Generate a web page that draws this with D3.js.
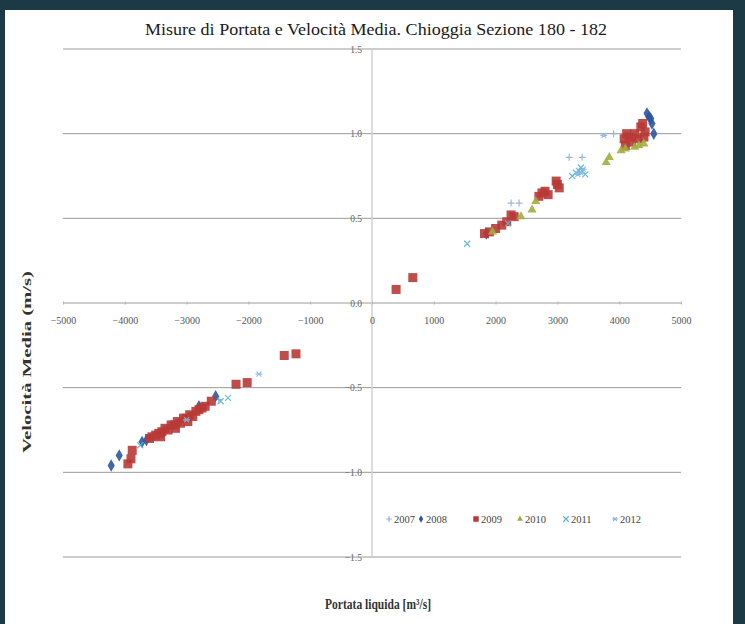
<!DOCTYPE html>
<html>
<head>
<meta charset="utf-8">
<script src="https://cdn.jsdelivr.net/npm/d3@7"></script>
<style>
  html, body { margin: 0; padding: 0; background: #1b3a46; }
  svg { display: block; }
</style>
</head>
<body>
<svg id="chart" width="745" height="624"></svg>
<script>
// Discharge [m3/s] vs mean velocity [m/s], one array per survey year
const years = ["2007", "2008", "2009", "2010", "2011", "2012"];

const data2007 = [[2250, 0.59], [2380, 0.59], [3190, 0.86], [3400, 0.86], [3910, 1.00], [-2480, -0.57], [1880, 0.40]];

const data2008 = [[-4220, -0.96], [-4090, -0.90], [-3720, -0.82], [-3650, -0.81], [-2800, -0.61], [-2530, -0.55],
  [4450, 1.12], [4510, 1.09], [4530, 1.06], [4480, 1.10], [4560, 1.00], [1850, 0.41]];

const data2009 = [[390, 0.08], [660, 0.15], [1820, 0.41], [1900, 0.42], [2000, 0.44], [2100, 0.46], [2180, 0.48],
  [2250, 0.52], [2300, 0.51], [2700, 0.63], [2750, 0.65], [2800, 0.66], [2850, 0.64], [2980, 0.72], [3030, 0.68],
  [3000, 0.70], [4080, 0.97], [4120, 1.00], [4160, 0.98], [4200, 0.95], [4250, 1.00], [4350, 1.04], [4380, 1.06],
  [4400, 0.98], [4420, 1.01], [4300, 0.97], [4100, 0.93],
  [-1420, -0.31], [-1230, -0.30], [-2200, -0.48], [-2020, -0.47], [-3900, -0.92], [-3880, -0.87], [-3950, -0.95],
  [-3560, -0.79], [-3500, -0.78], [-3450, -0.77], [-3400, -0.76], [-3350, -0.74], [-3300, -0.75], [-3250, -0.72],
  [-3200, -0.72], [-3150, -0.70], [-3100, -0.71], [-3050, -0.68], [-3000, -0.68], [-2950, -0.66], [-2900, -0.67],
  [-2850, -0.64], [-2800, -0.63], [-2750, -0.62], [-2700, -0.61], [-2600, -0.58], [-3600, -0.80], [-3420, -0.79],
  [-3180, -0.74], [-2980, -0.70]];

const data2010 = [[2410, 0.51], [2590, 0.55], [3790, 0.83], [3840, 0.86], [4030, 0.90], [4320, 0.93], [4250, 0.92],
  [4400, 0.94], [1950, 0.42], [2650, 0.60], [4100, 0.91]];

const data2011 = [[3240, 0.75], [3300, 0.77], [3350, 0.78], [3400, 0.78], [3450, 0.76], [3380, 0.80], [1540, 0.35],
  [-2330, -0.56], [-2450, -0.58], [-3750, -0.84], [2200, 0.47]];

const data2012 = [[3380, 0.77], [3420, 0.79], [3330, 0.76], [-1830, -0.42], [3750, 0.99], [-3000, -0.69]];

const xTicks = [-5000, -4000, -3000, -2000, -1000, 0, 1000, 2000, 3000, 4000, 5000];
const yTicks = [-1.5, -1.0, -0.5, 0.0, 0.5, 1.0, 1.5];

const seriesData = [data2007, data2008, data2009, data2010, data2011, data2012];
const seriesColor = ["#8fb0cc", "#2b57a0", "#b83a36", "#a3ad3e", "#5ab4d0", "#8ab8e0"];
const seriesShape = ["plus", "diamond", "square", "triangle", "x", "star"];

const svg = d3.select("#chart");
const serif = "'Liberation Serif', 'DejaVu Serif', serif";

// white chart area
svg.append("rect").attr("x", 5).attr("y", 10).attr("width", 728).attr("height", 614).attr("fill", "#ffffff");

const x = d3.scaleLinear().domain([-5000, 5000]).range([63, 681]);
const y = d3.scaleLinear().domain([-1.5, 1.5]).range([557, 49]);

// horizontal gridlines
svg.append("g").selectAll("line").data(yTicks).join("line")
  .attr("x1", x(-5000)).attr("x2", x(5000))
  .attr("y1", d => y(d)).attr("y2", d => y(d))
  .attr("stroke", "#9a9a9a").attr("stroke-width", 1);

// vertical axis through zero
svg.append("line")
  .attr("x1", x(0)).attr("x2", x(0)).attr("y1", y(1.5)).attr("y2", y(-1.5))
  .attr("stroke", "#d0d0d0").attr("stroke-width", 1.5);

// x axis along zero velocity
const xAxis = d3.axisBottom(x).tickValues(xTicks).tickSize(3).tickFormat(d3.format("d"));
const gx = svg.append("g").attr("transform", `translate(0,${y(0) - 1.5})`).call(xAxis);
gx.select(".domain").remove();
gx.selectAll(".tick line").attr("stroke", "#b5b5b5");
gx.selectAll(".tick text")
  .attr("y", 15).attr("fill", "#555").style("font-family", serif).style("font-size", "10px");

// y axis labels next to the vertical axis
const yAxis = d3.axisLeft(y).tickValues(yTicks).tickSize(0).tickFormat(d3.format(".1f"));
const gy = svg.append("g").attr("transform", `translate(${x(0)},0)`).call(yAxis);
gy.select(".domain").remove();
gy.selectAll(".tick text")
  .attr("x", -10).attr("fill", "#666").style("font-family", serif).style("font-size", "9.5px");

// marker paths
function markerPath(shape, s) {
  const h = s / 2;
  switch (shape) {
    case "plus": return `M${-h},0H${h}M0,${-h}V${h}`;
    case "x": return `M${-h},${-h}L${h},${h}M${-h},${h}L${h},${-h}`;
    case "star": return `M${-h},0H${h}M${-h * 0.7},${-h * 0.7}L${h * 0.7},${h * 0.7}M${-h * 0.7},${h * 0.7}L${h * 0.7},${-h * 0.7}`;
    case "diamond": return d3.symbol(d3.symbolDiamond, s * s * 0.55)();
    case "square": return d3.symbol(d3.symbolSquare, s * s)();
    case "triangle": return d3.symbol(d3.symbolTriangle, s * s * 0.5)();
  }
}
const markerSize = { plus: 7, x: 6, star: 7, diamond: 9, square: 9, triangle: 8.5 };
const isLine = sh => sh === "plus" || sh === "x" || sh === "star";

function drawMarker(sel, shape, color, size) {
  sel.attr("d", markerPath(shape, size));
  if (isLine(shape)) sel.attr("fill", "none").attr("stroke", color).attr("stroke-width", 1.2);
  else sel.attr("fill", color).attr("stroke", "none");
}

// points
const gPts = svg.append("g");
seriesData.forEach((pts, i) => {
  const shape = seriesShape[i];
  gPts.append("g").selectAll("path").data(pts).join("path")
    .attr("transform", d => `translate(${x(d[0])},${y(d[1])})`)
    .each(function () { drawMarker(d3.select(this), shape, seriesColor[i], markerSize[shape]); })
    .attr("opacity", 0.9);
});

// legend
const legendX = [389, 421, 476, 520, 566, 615];
const gLeg = svg.append("g");
years.forEach((yr, i) => {
  const shape = seriesShape[i];
  const p = gLeg.append("path").attr("transform", `translate(${legendX[i]},519)`);
  drawMarker(p, shape, seriesColor[i], 5.5);
  gLeg.append("text").attr("x", legendX[i] + 5).attr("y", 522.5)
    .attr("fill", "#444").style("font-family", serif).style("font-size", "10.5px").text(yr);
});

// titles
svg.append("text").attr("x", 376).attr("y", 35).attr("text-anchor", "middle")
  .attr("fill", "#1a1a1a").style("font-family", serif).style("font-size", "16.5px")
  .attr("textLength", 462).attr("lengthAdjust", "spacingAndGlyphs")
  .text("Misure di Portata e Velocità Media. Chioggia Sezione 180 - 182");

svg.append("text").attr("x", 378).attr("y", 609).attr("text-anchor", "middle")
  .attr("fill", "#333").style("font-family", serif).style("font-size", "15px").style("font-weight", "bold")
  .attr("textLength", 106).attr("lengthAdjust", "spacingAndGlyphs")
  .text("Portata liquida [m³/s]");

svg.append("text").attr("transform", "translate(31,362) rotate(-90)").attr("text-anchor", "middle")
  .attr("fill", "#333").style("font-family", serif).style("font-size", "13.5px").style("font-weight", "bold")
  .attr("textLength", 182).attr("lengthAdjust", "spacingAndGlyphs")
  .text("Velocità Media (m/s)");
</script>
</body>
</html>
